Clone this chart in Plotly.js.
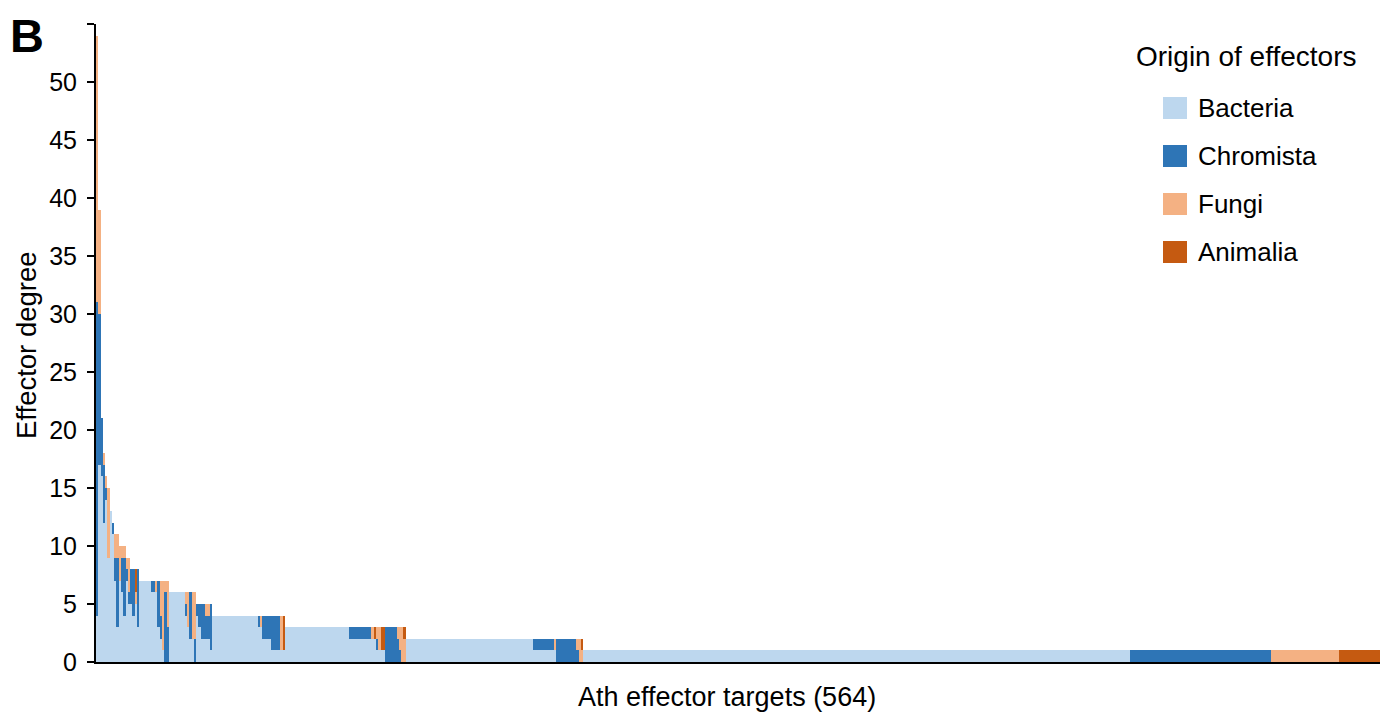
<!DOCTYPE html>
<html>
<head>
<meta charset="utf-8">
<script src="https://cdn.plot.ly/plotly-3.0.1.min.js"></script>
<style>html,body{margin:0;padding:0;background:#fff;}#chart{width:1380px;height:714px;}</style>
</head>
<body>
<div id="chart"></div>
<script>
// Runs of identical targets (sorted by effector degree); each run: number of targets and per-target counts
const runCount  = [1,1,1,1,1,1,1,1,1,1,1,1,1,1,1,1,1,1,1,5,2,1,1,1,1,1,1,7,1,1,1,1,1,1,1,2,2,1,20,1,1,4,4,1,1,28,10,1,1,1,1,2,5,1,1,1,1,56,9,1,9,1,1,1,240,62,30,18];
const bacteria  = [4,17,16,12,14,9,13,11,7,3,7,6,4,7,5,5,4,5,3,7,6,6,3,2,1,0,0,6,4,3,2,2,0,4,3,2,2,1,4,3,3,2,1,1,1,3,2,2,2,1,1,1,0,0,0,0,0,2,1,1,0,0,0,0,1,0,0,0];
const chromista = [27,13,5,5,1,0,0,1,2,6,0,3,5,1,1,3,4,0,5,0,1,0,4,2,0,6,3,0,1,0,4,0,2,1,2,3,2,4,0,1,0,2,3,0,0,0,1,0,0,1,0,0,3,2,1,0,0,0,1,0,2,1,0,0,0,1,0,0];
const fungi     = [23,9,0,1,1,6,0,0,2,2,3,1,1,1,3,0,0,1,0,0,0,1,0,3,6,1,4,0,1,3,0,4,4,0,0,0,1,0,0,0,1,0,0,3,0,0,0,1,0,1,2,0,0,1,2,3,2,0,0,1,0,1,2,1,0,0,1,0];
const animalia  = [0,0,0,0,0,0,0,0,0,0,0,0,0,0,0,0,0,2,0,0,0,0,0,0,0,0,0,0,0,0,0,0,0,0,0,0,0,0,0,0,0,0,0,0,3,0,0,0,1,0,0,2,0,0,0,0,1,0,0,0,0,0,0,1,0,0,0,1];
const seriesNames  = ['Bacteria','Chromista','Fungi','Animalia'];
const seriesColors = ['#BDD7EE','#2E75B6','#F4B183','#C55A11'];
const yTickVals = [0,5,10,15,20,25,30,35,40,45,50,55];
const yTickText = ['0','5','10','15','20','25','30','35','40','45','50',''];
const totalTargets = 564;

// expand runs into one bar per target (zero counts left empty)
const xs = [], cols = [[],[],[],[]];
const src = [bacteria, chromista, fungi, animalia];
let idx = 0;
runCount.forEach((n, r) => {
  for (let k = 0; k < n; k++) {
    idx++;
    xs.push(idx);
    for (let s = 0; s < 4; s++) cols[s].push(src[s][r] > 0 ? src[s][r] : null);
  }
});

const traces = seriesNames.map((name, s) => ({
  type: 'bar', name: name, x: xs, y: cols[s],
  marker: {color: seriesColors[s], line: {width: 0}},
  showlegend: false, hoverinfo: 'x+y+name'
}));

const L = 96, R = 0, T = 24, B = 52, W = 1380, H = 714;
const pw = W - L - R, ph = H - T - B;
const px2x = p => (p - L) / pw;
const py2y = p => (H - B - p) / ph;
const FONT = 'Liberation Sans, Arial, sans-serif';

const shapes = [], annotations = [];
// manual legend
annotations.push({xref:'paper', yref:'paper', x: px2x(1134), y: py2y(57), xanchor:'left', yanchor:'middle',
  text:'Origin of effectors', showarrow:false, font:{family:FONT, size:28, color:'#000'}});
seriesNames.forEach((name, s) => {
  const cy = 108 + s * 48;
  shapes.push({type:'rect', xref:'paper', yref:'paper', x0: px2x(1163), x1: px2x(1187),
    y0: py2y(cy + 11), y1: py2y(cy - 11), fillcolor: seriesColors[s], line:{width:0}});
  annotations.push({xref:'paper', yref:'paper', x: px2x(1196), y: py2y(cy), xanchor:'left', yanchor:'middle',
    text: name, showarrow:false, font:{family:FONT, size:26, color:'#000'}});
});
// axis titles and panel letter
annotations.push({xref:'paper', yref:'paper', x: px2x(727), y: py2y(697), xanchor:'center', yanchor:'middle',
  text:'Ath effector targets (' + totalTargets + ')', showarrow:false, font:{family:FONT, size:27, color:'#000'}});
annotations.push({xref:'paper', yref:'paper', x: px2x(26), y: py2y(345), xanchor:'center', yanchor:'middle',
  text:'Effector degree', textangle:-90, showarrow:false, font:{family:FONT, size:27.5, color:'#000'}});
annotations.push({xref:'paper', yref:'paper', x: px2x(27), y: py2y(36), xanchor:'center', yanchor:'middle',
  text:'<b>B</b>', showarrow:false, font:{family:FONT, size:47, color:'#000'}});

const layout = {
  width: W, height: H,
  margin: {l: L, r: R, t: T, b: B, pad: 0},
  paper_bgcolor: '#fff', plot_bgcolor: '#fff',
  barmode: 'stack', bargap: 0, bargroupgap: 0,
  font: {family: FONT, size: 24, color: '#000'},
  xaxis: {range: [0.5, totalTargets + 0.5], showticklabels: false, ticks: '', showgrid: false, zeroline: false,
    showline: true, linecolor: '#000', linewidth: 2, fixedrange: true},
  yaxis: {range: [0, 55], tickvals: yTickVals, ticktext: yTickText, ticks: 'outside', ticklen: 7, tickwidth: 2,
    tickcolor: '#000', showgrid: false, zeroline: false, showline: true, linecolor: '#000', linewidth: 2,
    ticklabelstandoff: 5, tickfont: {family: FONT, size: 25, color: '#000'}, fixedrange: true},
  shapes: shapes, annotations: annotations
};

Plotly.newPlot('chart', traces, layout, {displayModeBar: false, staticPlot: true});
</script>
</body>
</html>
